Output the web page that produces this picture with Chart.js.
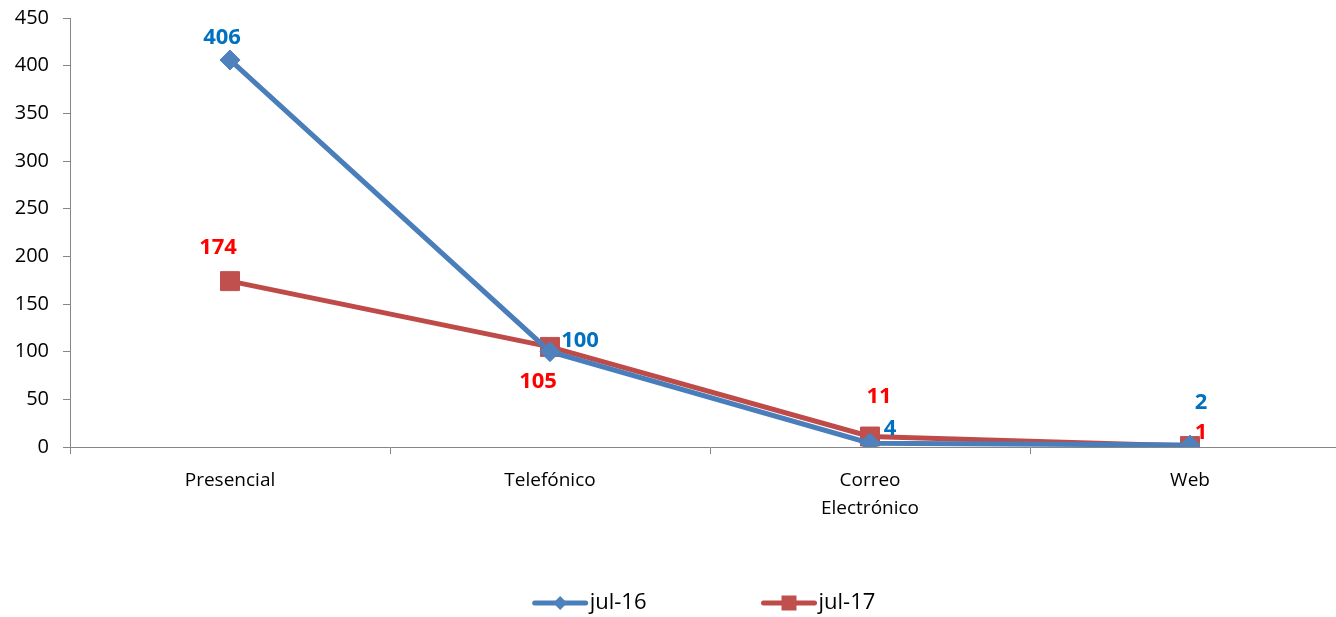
<!DOCTYPE html>
<html>
<head>
<meta charset="utf-8">
<script src="https://cdn.jsdelivr.net/npm/chart.js@4.4.0/dist/chart.umd.min.js"></script>
<style>
html, body { margin: 0; padding: 0; background: #fff; overflow: hidden; }
#wrap { width: 1420px; height: 617px; }
</style>
</head>
<body>
<div id="wrap"><canvas id="myChart" width="1420" height="617"></canvas></div>
<script>
// datos
const categories = ['Presencial', 'Telefónico', ['Correo', 'Electrónico'], 'Web'];
const jul16 = [406, 100, 4, 2];
const jul17 = [174, 105, 11, 1];
const yMin = 0, yMax = 450, yStep = 50;

// donde va cada etiqueta respecto a su punto (px)
const shift16 = [[-8, -22], [30, -11], [20, -14], [11, -42]];
const shift17 = [[-12, -33], [-12, 35], [9, -40], [11, -13]];

const font = '"Open Sans", "Noto Sans", sans-serif';
const axisGray = '#868686';

// etiquetas de valor
const valueLabels = {
    id: 'valueLabels',
    afterDatasetsDraw(chart) {
        const ctx = chart.ctx;
        ctx.save();
        ctx.font = 'bold 22px ' + font;
        ctx.textAlign = 'center';
        ctx.textBaseline = 'middle';
        chart.data.datasets.forEach((ds, i) => {
            const meta = chart.getDatasetMeta(i);
            ctx.fillStyle = ds.labelColor;
            meta.data.forEach((pt, j) => {
                const s = ds.shift[j];
                ctx.fillText(ds.data[j], pt.x + s[0], pt.y + s[1]);
            });
        });
        ctx.restore();
    }
};

// leyenda con linea + marcador
function marker(ctx, style, x, y, r, color) {
    ctx.fillStyle = color;
    ctx.beginPath();
    if (style === 'rectRot') {
        ctx.moveTo(x - r, y); ctx.lineTo(x, y - r); ctx.lineTo(x + r, y); ctx.lineTo(x, y + r);
    } else {
        ctx.rect(x - r, y - r, 2 * r, 2 * r);
    }
    ctx.closePath();
    ctx.fill();
}

const lineLegend = {
    id: 'lineLegend',
    afterDraw(chart) {
        const ctx = chart.ctx;
        const area = chart.chartArea;
        const y = 603, lineW = 55, gap = 115;
        ctx.save();
        ctx.font = '22px ' + font;
        ctx.textBaseline = 'middle';
        const ds = chart.data.datasets;
        const widths = ds.map(d => lineW + 2 + ctx.measureText(d.label).width);
        const total = widths.reduce((a, b) => a + b, 0) + gap * (ds.length - 1);
        let x = (area.left + area.right) / 2 - 6 - total / 2;
        ds.forEach((d, i) => {
            ctx.strokeStyle = d.borderColor;
            ctx.lineWidth = 5;
            ctx.lineCap = 'round';
            ctx.beginPath();
            ctx.moveTo(x + 2, y);
            ctx.lineTo(x + lineW - 2, y);
            ctx.stroke();
            marker(ctx, d.pointStyle, x + lineW / 2, y, d.pointStyle === 'rect' ? 7.5 : 7, d.pointBackgroundColor);
            ctx.fillStyle = '#000';
            ctx.fillText(d.label, x + lineW + 2, y);
            x += widths[i] + gap;
        });
        ctx.restore();
    }
};

let myChart = document.getElementById('myChart').getContext('2d');
let canalChart = new Chart(myChart, {
    type: 'line',
    data: {
        labels: categories,
        datasets: [{
            label: 'jul-16',
            data: jul16,
            borderColor: '#4A7EBB',
            borderWidth: 5,
            pointStyle: 'rectRot',
            pointRadius: 10,
            pointHoverRadius: 10,
            pointBackgroundColor: '#4F81BD',
            pointBorderColor: '#4F81BD',
            pointBorderWidth: 1,
            labelColor: '#0070C0',
            shift: shift16,
            tension: 0
        }, {
            label: 'jul-17',
            data: jul17,
            borderColor: '#BE4B48',
            borderWidth: 5,
            pointStyle: 'rect',
            pointRadius: 13.4,
            pointHoverRadius: 13.4,
            pointBackgroundColor: '#C0504D',
            pointBorderColor: '#C0504D',
            pointBorderWidth: 1,
            labelColor: '#FF0000',
            shift: shift17,
            tension: 0
        }]
    },
    options: {
        responsive: false,
        animation: false,
        layout: {
            padding: { left: 0, right: 70, top: 18, bottom: 0 }
        },
        plugins: {
            legend: { display: false },
            tooltip: { enabled: false }
        },
        scales: {
            x: {
                offset: true,
                grid: {
                    offset: true,
                    drawOnChartArea: false,
                    drawTicks: true,
                    tickLength: 7,
                    color: axisGray
                },
                border: { display: true, color: axisGray, width: 1 },
                ticks: {
                    color: '#000',
                    padding: 12,
                    maxRotation: 0,
                    autoSkip: false,
                    font: { family: font, size: 19, lineHeight: 1.5 }
                },
                afterFit(scale) { scale.height = 170; }
            },
            y: {
                min: yMin,
                max: yMax,
                ticks: {
                    stepSize: yStep,
                    color: '#000',
                    padding: 14,
                    font: { family: font, size: 20, lineHeight: 0.4 }
                },
                grid: {
                    drawOnChartArea: false,
                    drawTicks: true,
                    tickLength: 7,
                    color: axisGray
                },
                border: { display: true, color: axisGray, width: 1 },
                afterFit(scale) { scale.width = 70; }
            }
        }
    },
    plugins: [valueLabels, lineLegend]
});
</script>
</body>
</html>
